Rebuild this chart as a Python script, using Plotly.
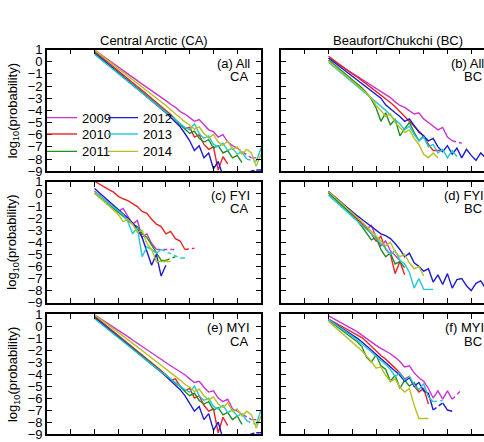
import plotly.graph_objects as go

# ---------------- data ----------------
X_BINS = [2.0, 2.2, 2.4, 2.6, 2.8, 3.0, 3.2, 3.4, 3.6, 3.8, 4.0, 4.2, 4.4, 4.6, 4.8,
          5.0, 5.2, 5.4, 5.6, 5.8, 6.0, 6.2, 6.4, 6.6, 6.8, 7.0, 7.2, 7.4, 7.6, 7.8,
          8.0, 8.2, 8.4, 8.6, 8.8, 9.0]
YEARS = ["2009", "2010", "2011", "2012", "2013", "2014"]
COLORS = ["#cc33cc", "#ee2222", "#1f8f1f", "#1c1cd0", "#22c8d2", "#b8c020"]
Y_TICKS = [1, 0, -1, -2, -3, -4, -5, -6, -7, -8, -9]

# (a) All, Central Arctic
CA_ALL_2009 = [0.95, 0.68, 0.40, 0.12, -0.16, -0.44, -0.72, -1.0, -1.28, -1.56, -1.84, -2.1, -2.38, -2.66, -2.95,
               -3.2, -3.5, -3.75, -4.1, -4.3, -4.6, -4.9, -4.75, -5.2, -5.6, -5.75, -6.2, -6.0, -6.6, -6.9,
               -7.1, None, None, -7.9, -7.9]
CA_ALL_2010 = [0.85, 0.52, 0.2, -0.12, -0.44, -0.76, -1.08, -1.4, -1.72, -2.04, -2.36, -2.68, -3.0, -3.32, -3.66,
               -4.0, -4.35, -4.75, -5.1, -5.5, -5.4, -6.2, -6.0, -6.8, -7.2, -7.0, -8.9, -7.8, -8.4]
CA_ALL_2011 = [0.72, 0.4, 0.08, -0.24, -0.56, -0.88, -1.2, -1.52, -1.84, -2.16, -2.48, -2.8, -3.12, -3.44, -3.76,
               -4.1, -4.45, -4.8, -5.15, -5.5, -5.9, -5.7, -6.3, -6.6, -6.4, -7.1, -6.9, -7.5, -7.3, -7.9,
               -7.7, -8.3]
CA_ALL_2012 = [0.7, 0.38, 0.06, -0.27, -0.59, -0.92, -1.24, -1.57, -1.89, -2.22, -2.54, -2.87, -3.2, -3.52, -3.86,
               -4.2, -4.58, -4.95, -5.35, -5.9, -6.5, -7.3, -6.9, -7.9, -7.5, -8.8, -8.2, -9.4, None, None,
               None, None, None, None, -8.9, -8.9]
CA_ALL_2013 = [0.6, 0.28, -0.04, -0.36, -0.68, -1.0, -1.32, -1.64, -1.96, -2.28, -2.6, -2.92, -3.24, -3.55, -3.85,
               -4.15, -4.45, -4.8, -5.1, -5.4, -5.6, -5.1, -5.9, -6.3, -6.1, -6.8, -7.0, -6.7, -7.3, -7.1,
               -7.6, -7.4, -8.0, None, -8.2, -7.1]
CA_ALL_2014 = [0.95, 0.65, 0.35, 0.05, -0.25, -0.55, -0.86, -1.16, -1.46, -1.77, -2.08, -2.38, -2.69, -3.0, -3.3,
               -3.6, -3.95, -4.25, -4.6, -4.95, -5.2, -5.55, -5.35, -5.9, -6.25, -6.0, -6.6, -6.9, -6.5, -7.2,
               -7.0, -7.6, -7.2, -7.5, -8.6, -7.6]

# (b) All, Beaufort/Chukchi
BC_ALL_2009 = [0.3, 0.05, -0.2, -0.45, -0.7, -0.95, -1.2, -1.45, -1.7, -1.95, -2.2, -2.45, -2.7, -2.95, -3.3,
               -3.6, -3.75, -4.05, -4.3, -4.2, -4.7, -5.0, -5.3, -5.6, -5.4, -6.2, -6.5, None, -6.7]
BC_ALL_2010 = [0.45, 0.15, -0.15, -0.45, -0.75, -1.0, -1.25, -1.55, -1.85, -2.15, -2.45, -2.7, -3.0, -3.35, -3.7,
               -4.1, -4.5, -4.9, -5.3, -5.7, -6.1, -6.8, -7.3, -7.3, -7.3]
BC_ALL_2011 = [0.15, -0.17, -0.5, -0.82, -1.15, -1.48, -1.8, -2.15, -2.55, -3.1, -3.8, -4.9, -4.2, -5.2, -4.7,
               -6.1, -5.5, -5.0, -5.8, -6.5, -6.1, -6.9]
BC_ALL_2012 = [0.3, 0.0, -0.3, -0.6, -0.9, -1.2, -1.5, -1.8, -2.1, -2.4, -2.7, -3.0, -3.55, -3.9, -4.2,
               -4.5, -4.9, -4.7, -5.3, -5.8, -6.1, -6.5, -6.3, -7.0, -7.4, -6.9, -7.6, -7.1, -7.9, -7.2,
               -7.7, -8.1, -7.5, -7.9, -7.7]
BC_ALL_2013 = [-0.05, -0.37, -0.69, -1.01, -1.33, -1.65, -1.97, -2.29, -2.61, -2.93, -3.3, -3.65, -4.0, -4.4, -4.8,
               -5.1, -5.6, -5.3, -6.0, -6.5, -6.2, -7.0, -6.8, -7.5, -7.2, -7.9, -7.3, -7.8]
BC_ALL_2014 = [0.05, -0.28, -0.6, -0.93, -1.25, -1.58, -1.9, -2.25, -2.6, -3.0, -3.6, -4.0, -4.5, -4.3, -5.0,
               -5.4, -5.8, -5.6, -6.3, -6.8, -7.6, -7.9, -7.5, -7.9]

# (c) FYI, Central Arctic
CA_FYI_2009 = [0.25, -0.1, -0.45, -0.8, -1.1, -1.45, -1.2, -1.9, -2.5, -2.2, -3.6, -3.3, -4.1, -4.6, None,
               None, None, -4.6]
CA_FYI_2010 = [1.05, 0.8, 0.6, 0.35, 0.15, -0.2, -0.4, -0.55, -0.8, -1.05, -1.45, -1.6, -2.1, -2.5, -2.7,
               -3.3, -3.1, -3.7, -3.9, -4.6, None, -4.5]
CA_FYI_2011 = [0.05, -0.3, -0.6, -0.9, -1.2, -1.55, -1.85, -2.2, -2.5, -2.7, -3.3, -3.6, -4.2, -4.9, -5.5,
               -5.5, None, -5.2]
CA_FYI_2012 = [0.45, 0.1, -0.25, -0.6, -0.95, -1.3, -1.6, -2.0, -2.4, -2.9, -3.6, -4.7, -5.9, -5.0, -6.8,
               -5.9]
CA_FYI_2013 = [0.2, -0.1, -0.45, -0.8, -1.1, -1.4, -1.7, -2.3, -3.3, -2.8, -5.2, -4.4, -4.6, -4.9, -4.6,
               None, None, None, -5.3, -5.3]
CA_FYI_2014 = [0.1, -0.25, -0.6, -0.95, -1.3, -1.7, -2.3, -2.1, -2.5, -3.2, -3.0, -4.1, -4.6, -5.6, -5.6,
               -5.6, -5.6]

# (d) FYI, Beaufort/Chukchi
BC_FYI_2009 = [0.15, -0.2, -0.55, -0.9, -1.26, -1.62, -2.0, -2.45, -2.9, -2.6, -3.6, -4.3, -3.9, -4.7, -5.1,
               -5.5]
BC_FYI_2010 = [0.22, -0.15, -0.52, -0.9, -1.28, -1.65, -2.05, -2.45, -2.85, -3.3, -3.9, -3.5, -4.6, -5.0, -6.6,
               -5.6, -6.7]
BC_FYI_2011 = [0.05, -0.3, -0.65, -1.0, -1.4, -1.8, -2.2, -2.7, -3.2, -3.8, -3.6, -4.6, -5.2, -4.9, -5.8,
               -5.6, -6.1]
BC_FYI_2012 = [0.2, -0.14, -0.48, -0.82, -1.15, -1.48, -1.8, -2.1, -2.4, -2.7, -3.0, -3.3, -3.45, -3.7, -4.1,
               -4.6, -5.2, -4.9, -5.7, -6.0, -6.4, -6.2, -7.3, -6.7, -7.5, -6.6, -7.8, -7.1, -7.0, -7.6,
               -8.0, -7.4, -7.2, -7.8, -7.5]
BC_FYI_2013 = [-0.1, -0.45, -0.8, -1.15, -1.5, -1.85, -2.2, -2.55, -2.95, -3.3, -3.7, -4.1, -4.5, -5.0, -4.7,
               -5.5, -5.8, -6.5, -7.8, -7.0, -7.9, -7.9, -7.9]
BC_FYI_2014 = [0.2, -0.15, -0.5, -0.87, -1.22, -1.58, -1.95, -2.3, -2.7, -3.1, -3.5, -3.9, -4.3, -4.0, -4.8,
               -5.2, -5.0, -5.7, -6.2, -6.0, -6.8]

# (e) MYI, Central Arctic
CA_MYI_2009 = [0.95, 0.7, 0.45, 0.2, -0.06, -0.32, -0.6, -0.87, -1.15, -1.42, -1.7, -1.98, -2.26, -2.55, -2.82,
               -3.05, -3.3, -3.55, -3.8, -4.05, -4.4, -4.7, -4.6, -5.1, -5.5, -5.4, -6.0, -6.3, -6.1, -6.9,
               -7.1, None, None, -7.8, -7.8]
CA_MYI_2010 = [0.85, 0.53, 0.21, -0.11, -0.43, -0.75, -1.07, -1.39, -1.71, -2.03, -2.35, -2.67, -3.0, -3.32, -3.7,
               -4.05, -4.5, -4.4, -5.0, -5.4, -5.2, -6.0, -5.8, -6.6, -7.1, -6.9, -8.9, -7.6, -8.3]
CA_MYI_2011 = [0.75, 0.43, 0.11, -0.21, -0.53, -0.85, -1.17, -1.49, -1.81, -2.13, -2.45, -2.77, -3.09, -3.41, -3.73,
               -4.05, -4.4, -4.75, -5.05, -5.45, -5.8, -5.6, -6.2, -6.5, -6.3, -7.0, -6.8, -7.4, -7.2, -7.8,
               -7.5, -8.2]
CA_MYI_2012 = [0.72, 0.4, 0.08, -0.25, -0.57, -0.9, -1.22, -1.55, -1.87, -2.2, -2.52, -2.85, -3.18, -3.5, -3.84,
               -4.18, -4.55, -4.9, -5.3, -5.8, -6.4, -7.1, -6.7, -7.8, -7.3, -8.7, -8.0, -9.4, None, None,
               None, None, None, None, -8.9, -8.9]
CA_MYI_2013 = [0.62, 0.3, -0.02, -0.34, -0.66, -0.98, -1.3, -1.62, -1.94, -2.26, -2.58, -2.9, -3.22, -3.52, -3.82,
               -4.1, -4.4, -4.7, -5.0, -5.3, -5.5, -5.0, -5.8, -6.2, -6.0, -6.7, -6.9, -6.6, -7.2, -7.0,
               -7.5, -7.3, -7.9, None, -8.2, -7.0]
CA_MYI_2014 = [0.95, 0.66, 0.36, 0.07, -0.23, -0.53, -0.83, -1.13, -1.43, -1.73, -2.03, -2.33, -2.63, -2.93, -3.23,
               -3.55, -3.9, -4.15, -4.5, -4.85, -5.1, -5.45, -5.25, -5.8, -6.15, -5.9, -6.5, -6.8, -6.4, -7.1,
               -6.9, -7.5, -7.1, -7.4, -8.5, -7.5]

# (f) MYI, Beaufort/Chukchi
BC_MYI_2009 = [0.86, 0.65, 0.43, 0.2, -0.02, -0.25, -0.45, -0.75, -1.05, -1.35, -1.6, -1.85, -2.05, -2.3, -2.6,
               -2.95, -3.4, -3.3, -3.9, -4.3, -4.6, -5.2, -6.0, -5.4, -6.1, -5.4, -6.1, None, -5.3]
BC_MYI_2010 = [0.6, 0.38, 0.16, -0.06, -0.28, -0.5, -0.72, -0.95, -1.3, -1.7, -2.1, -2.45, -2.75, -3.1, -3.5,
               -3.9, -4.4, -4.2, -5.0, -5.5, -5.2, -6.5]
BC_MYI_2011 = [0.5, 0.2, -0.1, -0.4, -0.7, -1.0, -1.3, -1.7, -2.6, -3.0, -2.4, -3.3, -3.6, -4.6, -4.1,
               -5.2, -4.5, -5.0, -4.7, -5.4]
BC_MYI_2012 = [0.55, 0.3, 0.05, -0.2, -0.45, -0.72, -1.0, -1.3, -1.65, -2.0, -2.35, -2.7, -3.05, -3.4, -3.75,
               -4.1, -4.6, -4.3, -5.0, -4.7, -5.4, -5.6, -7.0, None, -6.4, -7.0, -7.1]
BC_MYI_2013 = [0.55, 0.28, 0.0, -0.27, -0.55, -0.85, -1.15, -1.45, -1.8, -2.15, -2.5, -2.8, -3.2, -3.6, -4.2,
               -3.9, -4.5, -4.2, -4.9, -5.3, -4.8, -5.9, -6.3, None, -6.2]
BC_MYI_2014 = [0.4, 0.05, -0.3, -0.65, -1.0, -1.35, -1.7, -2.05, -2.5, -2.95, -3.5, -3.4, -4.1, -4.6, -4.4,
               -5.1, -5.5, -5.2, -6.6, -7.7, -7.7, -7.7]

PANELS = [
    ("a", [CA_ALL_2009, CA_ALL_2010, CA_ALL_2011, CA_ALL_2012, CA_ALL_2013, CA_ALL_2014]),
    ("b", [BC_ALL_2009, BC_ALL_2010, BC_ALL_2011, BC_ALL_2012, BC_ALL_2013, BC_ALL_2014]),
    ("c", [CA_FYI_2009, CA_FYI_2010, CA_FYI_2011, CA_FYI_2012, CA_FYI_2013, CA_FYI_2014]),
    ("d", [BC_FYI_2009, BC_FYI_2010, BC_FYI_2011, BC_FYI_2012, BC_FYI_2013, BC_FYI_2014]),
    ("e", [CA_MYI_2009, CA_MYI_2010, CA_MYI_2011, CA_MYI_2012, CA_MYI_2013, CA_MYI_2014]),
    ("f", [BC_MYI_2009, BC_MYI_2010, BC_MYI_2011, BC_MYI_2012, BC_MYI_2013, BC_MYI_2014]),
]
PANEL_LABELS = ["(a) All", "(b) All", "(c) FYI", "(d) FYI", "(e) MYI", "(f) MYI"]
REGION_LABELS = ["CA", "BC", "CA", "BC", "CA", "BC"]
COL_TITLES = ["Central Arctic (CA)", "Beaufort/Chukchi (BC)"]

# ---------------- layout geometry (pixels) ----------------
W, H = 484, 442
FONT = "Liberation Sans, Arial, Helvetica, sans-serif"
FS = 13
COLS_PX = [(47, 261), (281, 495)]
ROWS_PX = [(44, 170), (181, 306), (318, 442)]
LEGEND_X_PX = [42, 42, 42, 103, 103, 103]
LEGEND_Y_PX = [99, 116, 134, 99, 116, 134]


def fx(p):
    return p / W


def fy(p):
    return 1 - p / H


fig = go.Figure()
LEGEND_IDS = ["legend", "legend2", "legend3", "legend4", "legend5", "legend6"]

for k, (name, series) in enumerate(PANELS):
    ax = "" if k == 0 else str(k + 1)
    for yi, (year, color, vals) in enumerate(zip(YEARS, COLORS, series)):
        xs = X_BINS[:len(vals)]
        # dashed connectors across empty bins
        dx, dy = [], []
        last = None
        for i, v in enumerate(vals):
            if v is None:
                continue
            if last is not None and i - last > 1:
                dx += [xs[last], xs[i], None]
                dy += [vals[last], v, None]
            last = i
        if dx:
            fig.add_trace(go.Scatter(x=dx, y=dy, mode="lines", xaxis="x" + ax, yaxis="y" + ax,
                                     line=dict(color=color, width=1.4, dash="4px,3px"),
                                     showlegend=False, hoverinfo="skip"))
        fig.add_trace(go.Scatter(x=xs, y=vals, mode="lines", xaxis="x" + ax, yaxis="y" + ax,
                                 line=dict(color=color, width=1.4), connectgaps=False,
                                 name=year, showlegend=(k == 0), legend=LEGEND_IDS[yi]))

axis_common = dict(showline=True, linecolor="black", linewidth=1.7, ticks="inside",
                   ticklen=5, tickwidth=1.4, tickcolor="black", showgrid=False, zeroline=False)

layout = dict(width=W, height=H, margin=dict(l=0, r=0, t=0, b=0),
              plot_bgcolor="white", paper_bgcolor="white",
              font=dict(family=FONT, size=FS, color="black"), showlegend=True)

for k in range(6):
    r, c = divmod(k, 2)
    x0, x1 = COLS_PX[c]
    y0, y1 = ROWS_PX[r]
    ax = "" if k == 0 else str(k + 1)
    xr_max = 9 * (min(x1, W) - x0) / (x1 - x0)
    layout["xaxis" + ax] = dict(axis_common, domain=[fx(x0), fx(min(x1, W))], range=[0, xr_max],
                                tickvals=list(range(10)), showticklabels=False, mirror="ticks",
                                anchor="y" + ax)
    layout["yaxis" + ax] = dict(axis_common, domain=[fy(y1), fy(y0)], range=[-9, 1], tickvals=Y_TICKS,
                                showticklabels=(c == 0), mirror=("ticks" if c == 0 else False),
                                anchor="x" + ax, tickfont=dict(size=FS))

annotations = []
for c, t in enumerate(COL_TITLES):
    cx = [154, 398][c]
    annotations.append(dict(text=t, x=fx(cx), y=fy(35), xref="paper", yref="paper",
                            showarrow=False, xanchor="center", yanchor="middle", font=dict(size=FS)))
for k in range(6):
    r, c = divmod(k, 2)
    x0, x1 = COLS_PX[c]
    y0, y1 = ROWS_PX[r]
    annotations.append(dict(text=PANEL_LABELS[k], x=fx(x1 - 9), y=fy(y0 + 14), xref="paper", yref="paper",
                            showarrow=False, xanchor="right", yanchor="middle", font=dict(size=FS)))
    annotations.append(dict(text=REGION_LABELS[k], x=fx(x1 - 11), y=fy(y0 + 28), xref="paper", yref="paper",
                            showarrow=False, xanchor="right", yanchor="middle", font=dict(size=FS)))
for yc in [108, 244, 381]:
    annotations.append(dict(text="log<sub>10</sub>(probability)", x=fx(13), y=fy(yc),
                            xref="paper", yref="paper", textangle=-90, showarrow=False,
                            xanchor="center", yanchor="middle", font=dict(size=FS)))
layout["annotations"] = annotations

for i, lid in enumerate(LEGEND_IDS):
    layout[lid] = dict(bgcolor="rgba(0,0,0,0)", borderwidth=0, font=dict(size=FS),
                       xanchor="left", yanchor="top", itemwidth=30, orientation="v",
                       x=fx(LEGEND_X_PX[i]), y=fy(LEGEND_Y_PX[i]))

fig.update_layout(**layout)
fig.write_html("out.html")
